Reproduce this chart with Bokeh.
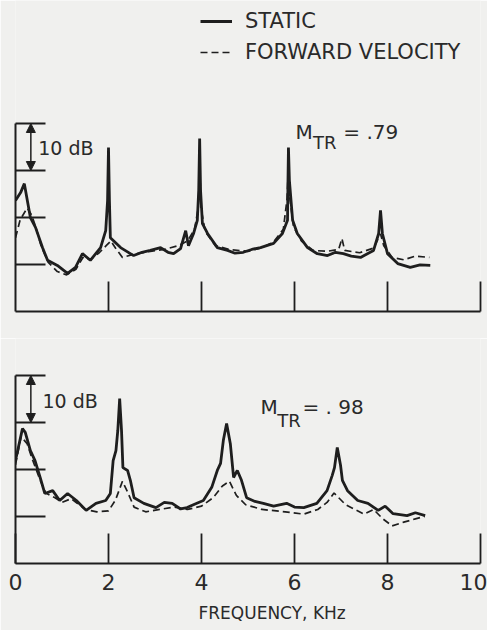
from bokeh.plotting import figure
from bokeh.models import (Range1d, FixedTicker, Label, Arrow, NormalHead, Legend, LegendItem,
                          Title)
from bokeh.layouts import column
from bokeh.embed import file_html
from bokeh.resources import INLINE

# ---------------- data (frequency in kHz, level in dB above the panel baseline) -------------
top_static_f = [0.00, 0.11, 0.19, 0.32, 0.43, 0.58, 0.69, 0.90, 1.12, 1.29, 1.44, 1.61, 1.83,
                1.94, 1.98, 2.00, 2.02, 2.04, 2.26, 2.54, 2.72, 2.90, 3.12, 3.28, 3.40, 3.55,
                3.66, 3.72, 3.83, 3.91, 3.94, 3.96, 3.98, 4.02, 4.13, 4.34, 4.56, 4.72, 4.90,
                5.08, 5.27, 5.55, 5.74, 5.85, 5.86, 5.87, 5.89, 5.96, 6.06, 6.28, 6.49, 6.71,
                6.88, 7.05, 7.22, 7.42, 7.70, 7.81, 7.85, 7.89, 8.00, 8.22, 8.49, 8.70, 8.92]
top_static_db = [23.6, 25.3, 27.2, 20.0, 17.9, 13.6, 10.9, 9.8, 8.1, 9.4, 12.3, 10.9, 13.6,
                 17.2, 23.6, 34.9, 23.6, 15.7, 13.6, 11.9, 12.6, 13.0, 13.6, 12.6, 12.3, 13.4,
                 17.2, 14.0, 16.6, 19.4, 25.7, 36.8, 25.7, 18.7, 16.6, 13.6, 13.0, 12.4, 12.6,
                 13.2, 13.6, 14.5, 16.6, 19.4, 27.9, 34.9, 27.9, 19.4, 16.6, 13.6, 12.3, 11.9,
                 12.6, 12.3, 11.8, 11.5, 13.0, 16.6, 21.5, 16.6, 12.3, 10.2, 9.4, 9.9, 9.8]

top_forward_f = [0.00, 0.10, 0.25, 0.35, 0.45, 0.55, 0.70, 0.90, 1.10, 1.30, 1.45, 1.60, 1.80,
                 1.95, 2.05, 2.15, 2.30, 2.55, 2.90, 3.20, 3.50, 3.70, 3.85, 3.93, 3.96, 3.99,
                 4.08, 4.30, 4.60, 5.00, 5.30, 5.55, 5.76, 5.84, 5.87, 5.90, 5.98, 6.15, 6.40,
                 6.70, 6.95, 7.02, 7.08, 7.40, 7.70, 7.80, 7.85, 7.92, 8.10, 8.35, 8.60, 8.90]
top_forward_db = [15.7, 19.5, 22.0, 20.5, 17.5, 14.0, 10.5, 8.5, 7.8, 9.0, 11.5, 11.0, 12.5,
                  14.0, 15.0, 13.5, 11.5, 12.2, 12.8, 13.2, 14.0, 15.0, 17.5, 22.0, 31.0, 22.0,
                  17.0, 14.0, 13.2, 12.8, 13.6, 14.8, 17.5, 24.0, 31.0, 24.0, 18.0, 15.0, 13.0,
                  12.8, 13.2, 15.5, 13.0, 12.5, 13.5, 15.5, 16.5, 14.0, 11.5, 11.0, 11.8, 11.5]

bot_static_f = [0.00, 0.15, 0.21, 0.32, 0.42, 0.53, 0.63, 0.80, 0.95, 1.12, 1.31, 1.52, 1.73,
                1.94, 2.04, 2.10, 2.16, 2.20, 2.24, 2.28, 2.31, 2.41, 2.47, 2.55, 2.76, 3.02,
                3.20, 3.37, 3.55, 3.69, 3.85, 4.04, 4.22, 4.34, 4.41, 4.47, 4.54, 4.62, 4.69,
                4.77, 4.86, 4.97, 5.15, 5.33, 5.55, 5.83, 6.00, 6.20, 6.48, 6.70, 6.81, 6.86,
                6.92, 6.99, 7.03, 7.14, 7.36, 7.58, 7.80, 7.95, 8.12, 8.42, 8.60, 8.81]
bot_static_db = [21.9, 28.7, 27.9, 24.0, 21.9, 18.3, 14.9, 15.5, 13.4, 14.9, 13.4, 11.3, 12.8,
                 13.4, 14.9, 21.9, 24.0, 28.3, 35.1, 28.3, 20.4, 19.8, 17.7, 14.0, 12.8, 11.9,
                 13.0, 12.8, 11.6, 11.9, 12.6, 13.4, 16.2, 19.8, 21.3, 26.2, 29.8, 25.5, 18.3,
                 19.8, 17.7, 14.0, 13.2, 12.8, 12.2, 12.8, 12.0, 11.9, 12.8, 15.5, 18.7, 20.4,
                 24.7, 20.9, 17.7, 15.5, 13.4, 12.8, 11.3, 12.2, 10.6, 10.2, 10.8, 10.2]

bot_forward_f = [0.00, 0.12, 0.25, 0.35, 0.50, 0.65, 0.85, 1.00, 1.20, 1.50, 1.75, 2.00, 2.15,
                 2.30, 2.42, 2.55, 2.80, 3.10, 3.40, 3.70, 4.00, 4.25, 4.45, 4.60, 4.75, 4.95,
                 5.30, 5.80, 6.20, 6.50, 6.70, 6.85, 6.95, 7.10, 7.30, 7.50, 7.70, 7.90, 8.10,
                 8.35, 8.60, 8.80]
bot_forward_db = [21.0, 27.0, 25.5, 22.5, 18.5, 15.0, 14.0, 13.0, 13.8, 11.5, 11.0, 11.2, 13.5,
                  17.5, 15.0, 12.0, 11.0, 11.5, 12.0, 11.5, 12.2, 14.0, 16.5, 17.5, 14.5, 12.5,
                  11.5, 11.0, 10.5, 11.5, 13.0, 15.0, 14.0, 12.5, 11.5, 10.5, 11.5, 9.5, 8.0,
                  8.8, 9.5, 10.0]

x_ticks_top = [2, 4, 6, 8, 10]
x_ticks_bottom = [0, 2, 4, 6, 8, 10]
y_ticks = [10, 20, 30, 40]
panel_labels = [("M", "TR", "= .79"), ("M", "TR", "= . 98")]
x_title = "FREQUENCY, KHz"

# ---------------- styling ----------------
INK = "#1e1e1e"
TXT = "#2a2a2a"
BG = "#f0f0ee"
FONT = "DejaVu Sans"
W = 487
PX_PER_DB = 4.7


def make_panel(height, frame_h, min_bottom, xticks, with_labels):
    p = figure(width=W, height=height,
               x_range=Range1d(0, 10), y_range=Range1d(0, frame_h / PX_PER_DB),
               output_backend="svg", toolbar_location=None,
               min_border_left=15, min_border_right=7, min_border_top=0,
               min_border_bottom=min_bottom)
    p.grid.visible = False
    p.outline_line_color = None
    p.background_fill_color = BG
    p.border_fill_color = BG

    xa = p.xaxis[0]
    xa.ticker = FixedTicker(ticks=xticks)
    xa.bounds = (0, 10)
    xa.major_tick_in = 30
    xa.major_tick_out = 0
    xa.minor_tick_line_color = None
    xa.axis_line_color = INK
    xa.axis_line_width = 2
    xa.major_tick_line_color = INK
    xa.major_tick_line_width = 1.8
    if with_labels:
        xa.major_label_text_font = FONT
        xa.major_label_text_font_size = "22px"
        xa.major_label_text_color = TXT
        xa.major_label_standoff = 10
    else:
        xa.major_label_overrides = {t: "" for t in xticks}
        xa.major_label_standoff = 0

    ya = p.yaxis[0]
    ya.ticker = FixedTicker(ticks=y_ticks)
    ya.bounds = (0, 40)
    ya.major_tick_in = 30
    ya.major_tick_out = 0
    ya.minor_tick_line_color = None
    ya.axis_line_color = INK
    ya.axis_line_width = 2
    ya.major_tick_line_color = INK
    ya.major_tick_line_width = 1.8
    ya.major_label_overrides = {t: "" for t in y_ticks}
    ya.major_label_standoff = 0
    return p


def decorate(p, labels, m_pos, dB_pos):
    # 10 dB scale bracket
    p.add_layout(Arrow(x_start=0.33, y_start=30, x_end=0.33, y_end=40,
                       line_color=INK, line_width=1.5,
                       start=NormalHead(size=9, fill_color=INK, line_color=INK),
                       end=NormalHead(size=9, fill_color=INK, line_color=INK)))
    p.add_layout(Label(x=dB_pos[0], y=dB_pos[1], text="10 dB", text_font=FONT,
                       text_font_size="19px", text_color=TXT, text_baseline="middle"))
    (mx, my), (sx, sy), (ex, ey) = m_pos
    p.add_layout(Label(x=mx, y=my, text=labels[0], text_font=FONT, text_font_size="20px",
                       text_color=TXT, text_baseline="alphabetic"))
    p.add_layout(Label(x=sx, y=sy, text=labels[1], text_font=FONT, text_font_size="18px",
                       text_color=TXT, text_baseline="alphabetic"))
    p.add_layout(Label(x=ex, y=ey, text=labels[2], text_font=FONT, text_font_size="20px",
                       text_color=TXT, text_baseline="alphabetic"))


# ---- top panel (M_TR = .79) ----
p1 = make_panel(338, 311, 27, x_ticks_top, False)
r_fwd = p1.line(top_forward_f, top_forward_db, line_color=INK, line_width=1.7,
                line_dash="7 4")
r_sta = p1.line(top_static_f, top_static_db, line_color=INK, line_width=2.8)
decorate(p1, panel_labels[0],
         ((6.02, 38.1), (6.40, 36.0), (7.05, 38.1)),
         (0.49, 34.7))
legend = Legend(items=[LegendItem(label="STATIC", renderers=[r_sta]),
                       LegendItem(label="FORWARD VELOCITY", renderers=[r_fwd])],
                location=(185, 247), orientation="vertical",
                glyph_width=32, glyph_height=24, label_height=24, label_standoff=13,
                spacing=7, padding=0, margin=0,
                border_line_color=None, background_fill_alpha=0,
                label_text_font=FONT, label_text_font_size="21px", label_text_color=TXT)
p1.add_layout(legend)

# ---- bottom panel (M_TR = .98) ----
p2 = make_panel(292, 225, 67, x_ticks_bottom, True)
p2.line(bot_forward_f, bot_forward_db, line_color=INK, line_width=1.7, line_dash="7 4")
p2.line(bot_static_f, bot_static_db, line_color=INK, line_width=2.8)
decorate(p2, panel_labels[1],
         ((5.27, 33.2), (5.63, 30.4), (6.17, 33.2)),
         (0.58, 34.5))
# x-axis title, set a little right of centre as in the original figure
p2.add_layout(Title(text=x_title, align="left", offset=183, standoff=16,
                    text_font=FONT, text_font_size="17px", text_font_style="normal",
                    text_color=TXT), "below")

layout = column(p1, p2, spacing=0)
open("out.html", "w").write(file_html(layout, INLINE))
